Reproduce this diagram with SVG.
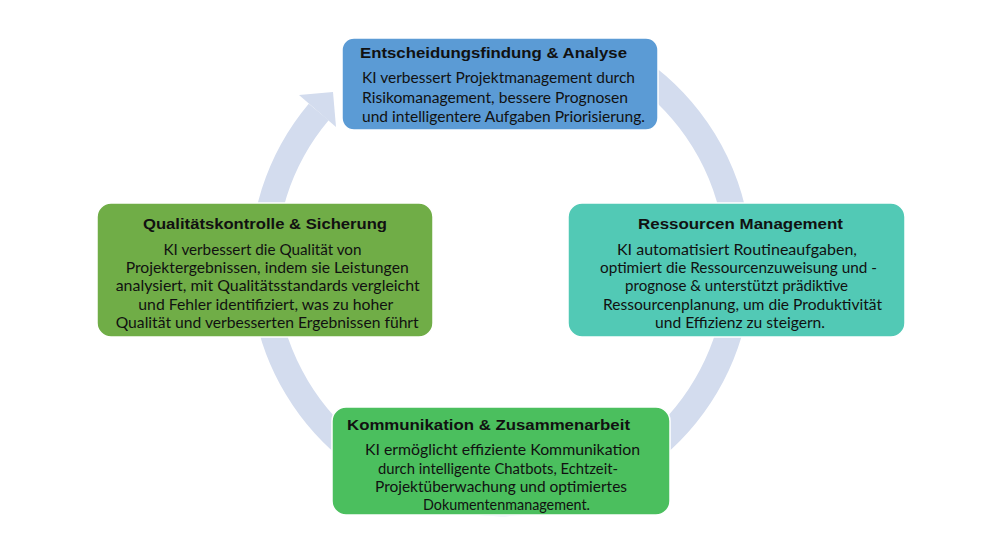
<svg xmlns="http://www.w3.org/2000/svg" width="1000" height="555" viewBox="0 0 1000 555">
<style>
.box{stroke:#ffffff;stroke-width:1.5}
.t{font-family:"Liberation Sans",Arial,sans-serif;font-weight:bold;font-size:15.5px;fill:#111111}
.b{font-family:Lato,"Open Sans",sans-serif;font-size:16px;fill:#111111}
</style>
<rect width="1000" height="555" fill="#ffffff"/>
<g id="connectors">
<path d="M 620 59 A 238 238 0 1 1 318.7 112" fill="none" stroke="#D3DCEE" stroke-width="26"/>
<polygon points="299,95 333,92 336,127" fill="#D3DCEE"/>
</g>
<g id="node-top">
<rect class="box" x="342" y="38" width="316" height="92" rx="12" fill="#5B9BD5"/>
<text class="t" x="360" y="58.3" textLength="267" lengthAdjust="spacingAndGlyphs">Entscheidungsfindung &amp; Analyse</text>
<text class="b" x="362" y="83.3" textLength="273" lengthAdjust="spacingAndGlyphs">KI verbessert Projektmanagement durch</text>
<text class="b" x="362" y="102.7" textLength="266" lengthAdjust="spacingAndGlyphs">Risikomanagement, bessere Prognosen</text>
<text class="b" x="362" y="121.7" textLength="283" lengthAdjust="spacingAndGlyphs">und intelligentere Aufgaben Priorisierung.</text>
</g>
<g id="node-left">
<rect class="box" x="97" y="203" width="336" height="134" rx="14" fill="#70AD47"/>
<text class="t" x="143" y="229" textLength="244" lengthAdjust="spacingAndGlyphs">Qualitätskontrolle &amp; Sicherung</text>
<text class="b" x="163.5" y="255" textLength="198" lengthAdjust="spacingAndGlyphs">KI verbessert die Qualität von</text>
<text class="b" x="125.7" y="273.2" textLength="283" lengthAdjust="spacingAndGlyphs">Projektergebnissen, indem sie Leistungen</text>
<text class="b" x="115.7" y="291.4" textLength="304" lengthAdjust="spacingAndGlyphs">analysiert, mit Qualitätsstandards vergleicht</text>
<text class="b" x="138.3" y="309.6" textLength="255" lengthAdjust="spacingAndGlyphs">und Fehler identifiziert, was zu hoher</text>
<text class="b" x="115.7" y="327.8" textLength="303" lengthAdjust="spacingAndGlyphs">Qualität und verbesserten Ergebnissen führt</text>
</g>
<g id="node-right">
<rect class="box" x="568" y="203" width="337" height="134" rx="14" fill="#52C9B5"/>
<text class="t" x="638" y="228.5" textLength="205" lengthAdjust="spacingAndGlyphs">Ressourcen Management</text>
<text class="b" x="617" y="255" textLength="240" lengthAdjust="spacingAndGlyphs">KI automatisiert Routineaufgaben,</text>
<text class="b" x="600" y="273.2" textLength="277" lengthAdjust="spacingAndGlyphs">optimiert die Ressourcenzuweisung und -</text>
<text class="b" x="625" y="291.4" textLength="223" lengthAdjust="spacingAndGlyphs">prognose &amp; unterstützt prädiktive</text>
<text class="b" x="603" y="309.6" textLength="279" lengthAdjust="spacingAndGlyphs">Ressourcenplanung, um die Produktivität</text>
<text class="b" x="655" y="327.8" textLength="170" lengthAdjust="spacingAndGlyphs">und Effizienz zu steigern.</text>
</g>
<g id="node-bottom">
<rect class="box" x="332" y="407" width="338" height="108" rx="14" fill="#4BBF5E"/>
<text class="t" x="347" y="429.5" textLength="283" lengthAdjust="spacingAndGlyphs">Kommunikation &amp; Zusammenarbeit</text>
<text class="b" x="365" y="455" textLength="275" lengthAdjust="spacingAndGlyphs">KI ermöglicht effiziente Kommunikation</text>
<text class="b" x="378" y="473.5" textLength="240" lengthAdjust="spacingAndGlyphs">durch intelligente Chatbots, Echtzeit-</text>
<text class="b" x="375" y="492" textLength="252" lengthAdjust="spacingAndGlyphs">Projektüberwachung und optimiertes</text>
<text class="b" x="423" y="510" textLength="167" lengthAdjust="spacingAndGlyphs">Dokumentenmanagement.</text>
</g>
</svg>
